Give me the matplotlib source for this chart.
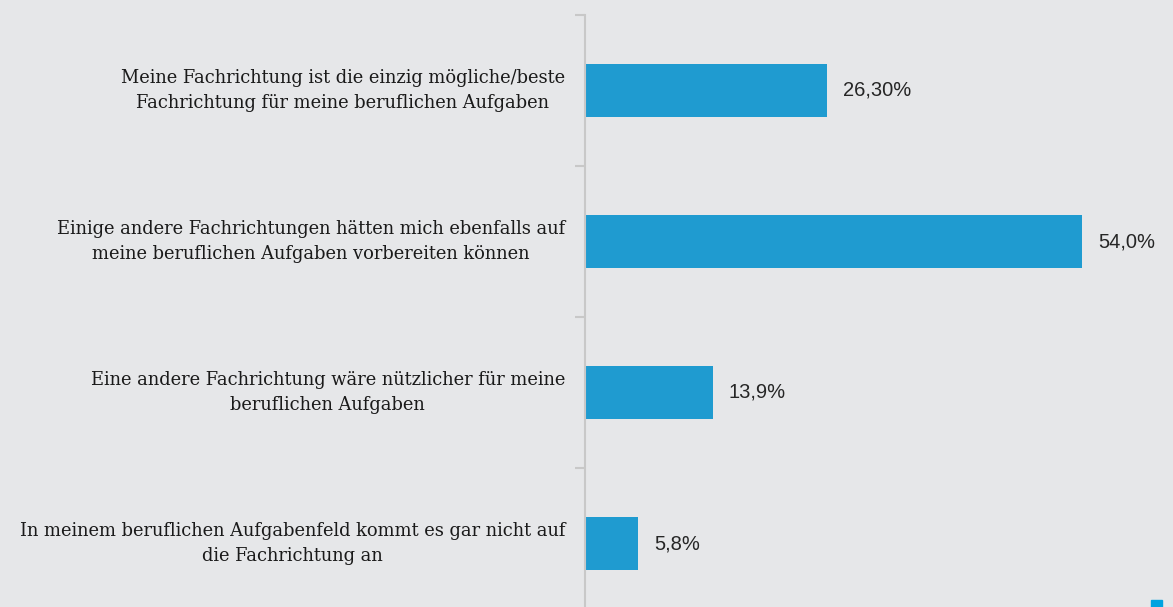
import matplotlib.pyplot as plt
from matplotlib.patches import Rectangle

# Antworten und Anteile (%)
categories = [
    "Meine Fachrichtung ist die einzig mögliche/beste\nFachrichtung für meine beruflichen Aufgaben",
    "Einige andere Fachrichtungen hätten mich ebenfalls auf\nmeine beruflichen Aufgaben vorbereiten können",
    "Eine andere Fachrichtung wäre nützlicher für meine\nberuflichen Aufgaben",
    "In meinem beruflichen Aufgabenfeld kommt es gar nicht auf\ndie Fachrichtung an",
]
values = [26.30, 54.0, 13.9, 5.8]
value_labels = ["26,30%", "54,0%", "13,9%", "5,8%"]

bg = "#e6e7e9"
bar_color = "#1f9bd0"

fig = plt.figure(figsize=(11.73, 6.07), dpi=100)
fig.patch.set_facecolor(bg)

W, H = 1173, 607
left_px, top_px, bottom_px = 585, 15, 619
ax = fig.add_axes([left_px / W, (H - bottom_px) / H, (W - left_px) / W, (bottom_px - top_px) / H])
ax.set_facecolor(bg)

y = list(range(len(categories)))
ax.barh(y, values, height=0.35, color=bar_color)
ax.set_ylim(len(categories) - 0.5, -0.5)
ax.set_xlim(0, 63.9)

for yi, v, lab in zip(y, values, value_labels):
    ax.annotate(lab, (v, yi), xytext=(16, 0), textcoords="offset pixels",
                va="center", ha="left", fontsize=14.5, family="Liberation Sans", color="#262626")

for yi, cat in zip(y, categories):
    ax.annotate(cat, (0, yi), xytext=(-20, 0), textcoords="offset pixels",
                va="center", ha="right", multialignment="center", fontsize=12.9,
                family="DejaVu Serif", color="#1a1a1a", linespacing=1.5)

# Achse links mit Trennstrichen zwischen den Kategorien
for s in ["top", "right", "bottom"]:
    ax.spines[s].set_visible(False)
ax.spines["left"].set_color("#c8c8c8")
ax.spines["left"].set_linewidth(1.5)
ax.set_xticks([])
ax.set_yticks([i - 0.5 for i in range(len(categories) + 1)])
ax.set_yticklabels([])
ax.tick_params(axis="y", length=7, width=1.5, color="#c8c8c8")

fig.patches.append(Rectangle((1151 / W, 0), 11 / W, 7 / H, transform=fig.transFigure,
                             color="#00a3e0", zorder=5))

fig.savefig("out.png", dpi=100, facecolor=bg)
